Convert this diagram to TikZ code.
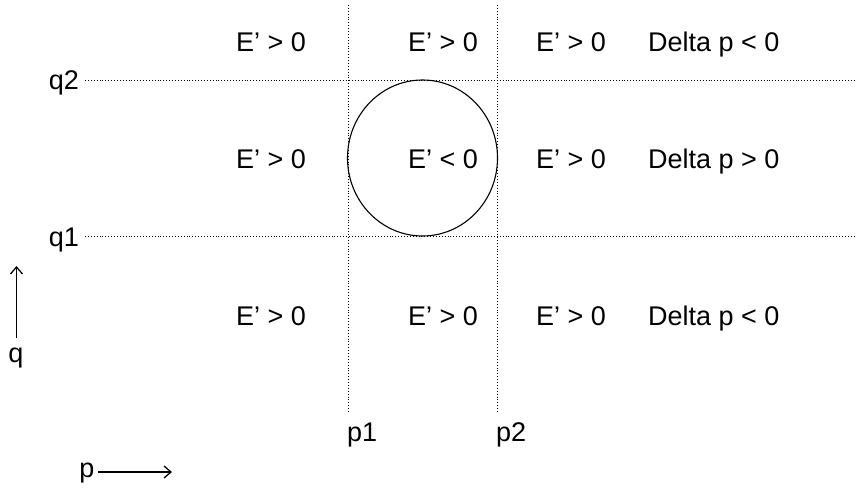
\documentclass[tikz,border=0pt]{standalone}
\usepackage{fontspec}
\setmainfont{Liberation Sans}
\usetikzlibrary{arrows.meta,shapes.geometric}
\begin{document}
\begin{tikzpicture}[x=1pt,y=-1pt,
  lbl/.style={font=\fontsize{27}{32}\selectfont, inner sep=0pt},
  gridline/.style={dotted, line width=0.9pt},
  axis/.style={line width=1.3pt, -{Straight Barb[length=7pt,width=12pt]}}]
\useasboundingbox (0,0) rectangle (856,489);
% grid lines
\coordinate (v1t) at (348,5);   \coordinate (v1b) at (348,412);
\coordinate (v2t) at (497,5);   \coordinate (v2b) at (497,412);
\coordinate (h2s) at (85,80);   \coordinate (h2e) at (856,80);
\coordinate (h1s) at (85,236);  \coordinate (h1e) at (856,236);
\draw[gridline] (v1t) -- (v1b);
\draw[gridline] (v2t) -- (v2b);
\draw[gridline] (h2s) -- (h2e);
\draw[gridline] (h1s) -- (h1e);
% circle
\node[draw, line width=1.1pt, ellipse, minimum width=150pt, minimum height=156pt, inner sep=0pt] (circ) at (422.5,158) {};
% row labels
\node[lbl, anchor=base] (r1c1) at (271,52) {E’ > 0};
\node[lbl, anchor=base] (r1c2) at (443,52) {E’ > 0};
\node[lbl, anchor=base] (r1c3) at (571,52) {E’ > 0};
\node[lbl, anchor=base west] (r1c4) at (648,52) {Delta p < 0};
\node[lbl, anchor=base] (r2c1) at (271,168) {E’ > 0};
\node[lbl, anchor=base] (r2c2) at (443,168) {E’ < 0};
\node[lbl, anchor=base] (r2c3) at (571,168) {E’ > 0};
\node[lbl, anchor=base west] (r2c4) at (648,168) {Delta p > 0};
\node[lbl, anchor=base] (r3c1) at (271,325) {E’ > 0};
\node[lbl, anchor=base] (r3c2) at (443,325) {E’ > 0};
\node[lbl, anchor=base] (r3c3) at (571,325) {E’ > 0};
\node[lbl, anchor=base west] (r3c4) at (648,325) {Delta p < 0};
% axis labels
\node[lbl, anchor=base east] (q2) at (79,90) {q2};
\node[lbl, anchor=base east] (q1) at (79,246) {q1};
\node[lbl, anchor=base west] (p1) at (347,441) {p1};
\node[lbl, anchor=base west] (p2) at (496,441) {p2};
% direction arrows
\coordinate (qa) at (16.5,338); \coordinate (qb) at (16.5,266);
\draw[axis] (qa) -- (qb);
\node[lbl, anchor=base] (q) at (16,362) {q};
\coordinate (pa) at (98,472); \coordinate (pb) at (172,472);
\draw[axis] (pa) -- (pb);
\node[lbl, anchor=base] (p) at (87,477) {p};
\end{tikzpicture}
\end{document}
